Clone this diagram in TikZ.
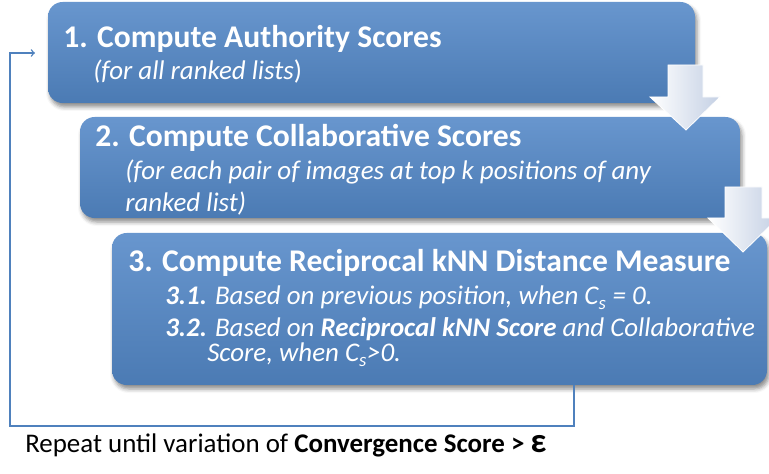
\documentclass[tikz,border=0pt]{standalone}
\usepackage{fontspec}
\setmainfont{Carlito}
\usetikzlibrary{shadows.blur}

\definecolor{stepblue}{RGB}{79,129,189}
\definecolor{steplight}{RGB}{104,150,206}
\definecolor{arrowgray}{RGB}{196,208,228}

\begin{document}
\begin{tikzpicture}[x=0.75pt,y=-0.75pt,
  stepbox/.style={rounded corners=11pt, inner sep=0pt,
    top color=steplight, middle color=stepblue, bottom color=stepblue!95!black,
    blur shadow={shadow xshift=1.5pt, shadow yshift=-3pt, shadow blur radius=3pt, shadow opacity=45}},
  steptitle/.style={anchor=base west, inner sep=0pt, text=white, font=\fontsize{23.7}{28}\selectfont\bfseries},
  stepnote/.style={anchor=base west, inner sep=0pt, text=white, font=\fontsize{20.2}{24}\selectfont\itshape},
  downarrow/.style={left color=white, right color=arrowgray, draw=white, line width=0.6pt},
  loopline/.style={draw=stepblue, line width=1.1pt, ->}]

\useasboundingbox (0,0) rectangle (769,474);

% the three steps
\node[stepbox, minimum width=647*0.75pt, minimum height=101*0.75pt] (box1) at (371.5,52.5) {};
\node[stepbox, minimum width=660*0.75pt, minimum height=101*0.75pt] (box2) at (410,167.5) {};
\node[stepbox, minimum width=655*0.75pt, minimum height=152*0.75pt] (box3) at (439.5,309) {};

% texts of step 1
\node[steptitle] (title1) at (63,48) {1. Compute Authority Scores};
\node[stepnote] (note1) at (93,80) {(for all ranked lists\upshape)};

% texts of step 2
\node[steptitle] (title2) at (95,147) {2. Compute Collaborative Scores};
\node[stepnote] (note2a) at (125,180) {(for each pair of images at top k positions of any};
\node[stepnote] (note2b) at (125,212) {ranked list)};

% texts of step 3
\node[steptitle] (title3) at (128,272) {3. Compute Reciprocal kNN Distance Measure};
\node[stepnote] (note3a) at (165,305) {\textbf{3.1.} Based on previous position, when C\textsubscript{s} = 0.};
\node[stepnote] (note3b) at (165,337) {\textbf{3.2.} Based on \textbf{Reciprocal kNN Score} and Collaborative};
\node[stepnote] (note3c) at (207,362) {Score, when C\textsubscript{s}>0.};

% arrows between the steps
\path[downarrow] (668,65) -- (703,65) -- (703,97) -- (720,97) -- (686,130) -- (650,97) -- (668,97) -- cycle;
\path[downarrow] (725,187) -- (762,187) -- (762,218) -- (778,218) -- (743,252) -- (708,218) -- (725,218) -- cycle;

% repeat loop
\coordinate (loopout) at (574,385);
\coordinate (loopcorner) at (10,426);
\coordinate (loopin) at (35,53);
\draw[loopline] (loopout) |- (loopcorner) |- (loopin);

\node[anchor=base west, inner sep=0pt, font=\fontsize{20.2}{24}\selectfont] (repeat) at (25,453)
  {Repeat until variation of \textbf{Convergence Score >} {\fontsize{26}{28}\selectfont\bfseries ε}};

\end{tikzpicture}
\end{document}
